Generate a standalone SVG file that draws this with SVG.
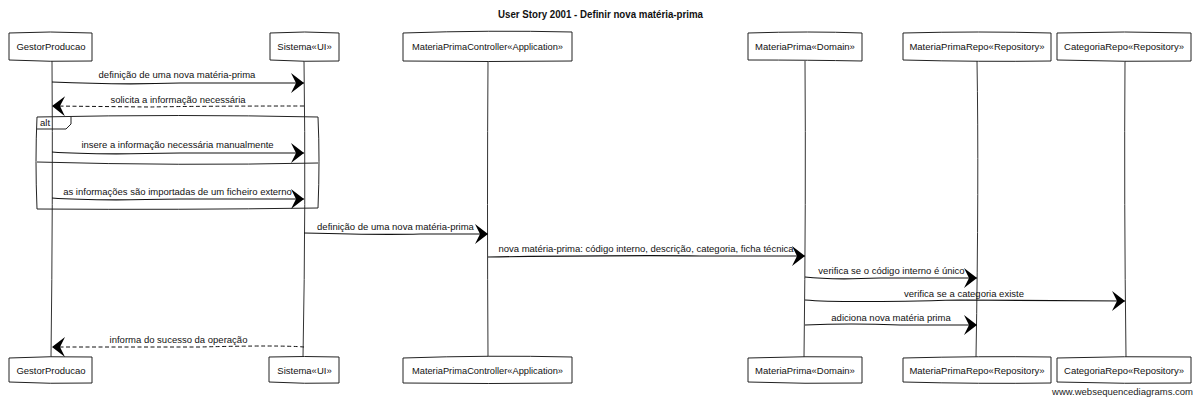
<svg xmlns="http://www.w3.org/2000/svg" width="1200" height="400" viewBox="0 0 1200 400">
<defs>
<style>
text{font-family:"Liberation Sans",Arial,sans-serif;font-size:9.5px;fill:#111}
.title{font-size:10px;font-weight:bold;text-anchor:middle}
.lbl{text-anchor:middle}
.pt{text-anchor:middle}
.box{fill:#fff;stroke:#222;stroke-width:1}
.life{fill:none;stroke:#333;stroke-width:1}
.msg{fill:none;stroke:#111;stroke-width:1.2;marker-end:url(#ah)}
.dash{stroke-dasharray:4,2.5;stroke-width:1}
.frame{fill:none;stroke:#222;stroke-width:1}
.wm{font-size:9.5px;text-anchor:end;fill:#222}
</style>
<marker id="ah" viewBox="-14 -11 15 22" refX="0" refY="0" markerWidth="15" markerHeight="22" markerUnits="userSpaceOnUse" orient="auto">
<path d="M0,0 L-13,-10 L-8,0 L-13,10 Z" fill="#000"/>
</marker>
</defs>
<rect width="1200" height="400" fill="#fff"/>
<text class="title" x="600.5" y="18" textLength="205" lengthAdjust="spacingAndGlyphs">User Story 2001 - Definir nova matéria-prima</text>

<g id="lifelines">
<path class="life" d="M52,61 Q53,200 51,357"/>
<path class="life" d="M304,61 Q306,200 303,357"/>
<path class="life" d="M488,61 Q487,200 488,357"/>
<path class="life" d="M805,61 Q806,200 804,357"/>
<path class="life" d="M977,61 Q979,180 976,357"/>
<path class="life" d="M1125,61 Q1124,200 1126,357"/>
</g>

<g id="alt-frame">
<path class="frame" d="M37,117 Q180,114 318,117 Q320,160 318,208 Q180,210 37,209 Q35,160 37,117 Z"/>
<path class="frame" d="M37,129 L66,129 L71,124 L71,117"/>
<text x="40" y="126">alt</text>
<path class="frame" d="M37,162 Q180,166 318,163"/>
</g>

<g id="GestorProducao">
<path class="box" d="M9,33 Q50,31 92,33 L92,61 Q50,62 9,60 Z"/>
<text class="pt" x="51" y="50">GestorProducao</text>
<path class="box" d="M9,358 Q50,356 92,357 L92,383 Q50,384 9,382 Z"/>
<text class="pt" x="51" y="373.5">GestorProducao</text>
</g>
<g id="Sistema">
<path class="box" d="M270,33 Q305,31 339,33 L339,61 Q305,62 270,60 Z"/>
<text class="pt" x="304.5" y="50">Sistema«UI»</text>
<path class="box" d="M269,357 Q305,356 339,357 L339,383 Q305,384 269,382 Z"/>
<text class="pt" x="304.5" y="373.5">Sistema«UI»</text>
</g>
<g id="MateriaPrimaController">
<path class="box" d="M403,33 Q490,30 572,32 L572,61 Q490,62 403,61 Z"/>
<text class="pt" x="487.5" y="50" textLength="151" lengthAdjust="spacingAndGlyphs">MateriaPrimaController«Application»</text>
<path class="box" d="M403,358 Q490,355 572,357 L572,383 Q490,384 403,383 Z"/>
<text class="pt" x="487.5" y="373.5" textLength="151" lengthAdjust="spacingAndGlyphs">MateriaPrimaController«Application»</text>
</g>
<g id="MateriaPrima">
<path class="box" d="M748,33 Q810,31 862,33 L862,61 Q810,60 748,60 Z"/>
<text class="pt" x="805" y="50">MateriaPrima«Domain»</text>
<path class="box" d="M748,358 Q805,356 862,357 L862,383 Q805,384 748,382 Z"/>
<text class="pt" x="805" y="373.5">MateriaPrima«Domain»</text>
</g>
<g id="MateriaPrimaRepo">
<path class="box" d="M903,33 Q980,31 1051,33 L1051,61 Q980,62 903,60 Z"/>
<text class="pt" x="977" y="50">MateriaPrimaRepo«Repository»</text>
<path class="box" d="M903,358 Q980,356 1051,357 L1051,383 Q980,384 903,382 Z"/>
<text class="pt" x="977" y="373.5">MateriaPrimaRepo«Repository»</text>
</g>
<g id="CategoriaRepo">
<path class="box" d="M1057,33 Q1125,31 1191,33 L1191,61 Q1125,62 1057,60 Z"/>
<text class="pt" x="1124" y="50">CategoriaRepo«Repository»</text>
<path class="box" d="M1057,358 Q1125,356 1191,357 L1191,383 Q1125,384 1057,382 Z"/>
<text class="pt" x="1124" y="373.5">CategoriaRepo«Repository»</text>
</g>

<g id="connectors">
<path class="msg" d="M52,82 Q120,85 180,83 L304,83"/>
<text class="lbl" x="177" y="78">definição de uma nova matéria-prima</text>
<path class="msg dash" d="M304,106 Q200,106 150,107 L52,106"/>
<text class="lbl" x="178" y="103">solicita a informação necessária</text>
<path class="msg" d="M52,152 Q90,155 180,153 L304,153"/>
<text class="lbl" x="177.5" y="148">insere a informação necessária manualmente</text>
<path class="msg" d="M52,198 Q90,201 180,199 L304,199"/>
<text class="lbl" x="177.5" y="195">as informações são importadas de um ficheiro externo</text>
<path class="msg" d="M304,233 Q380,235 420,234 L488,234"/>
<text class="lbl" x="395.5" y="230">definição de uma nova matéria-prima</text>
<path class="msg" d="M488,257 Q640,255 700,256 L805,256"/>
<text class="lbl" x="646" y="252">nova matéria-prima: código interno, descrição, categoria, ficha técnica</text>
<path class="msg" d="M805,277 Q830,280 880,278 L977,278"/>
<text class="lbl" x="891.5" y="274">verifica se o código interno é único</text>
<path class="msg" d="M805,300 Q840,303 960,300 L1125,301"/>
<text class="lbl" x="964" y="297">verifica se a categoria existe</text>
<path class="msg" d="M805,325 Q850,323 900,325 L977,325"/>
<text class="lbl" x="891" y="321">adiciona nova matéria prima</text>
<path class="msg dash" d="M304,347 Q280,345 200,347 L52,347"/>
<text class="lbl" x="178.5" y="343">informa do sucesso da operação</text>
</g>

<text class="wm" x="1193" y="395">www.websequencediagrams.com</text>
</svg>
